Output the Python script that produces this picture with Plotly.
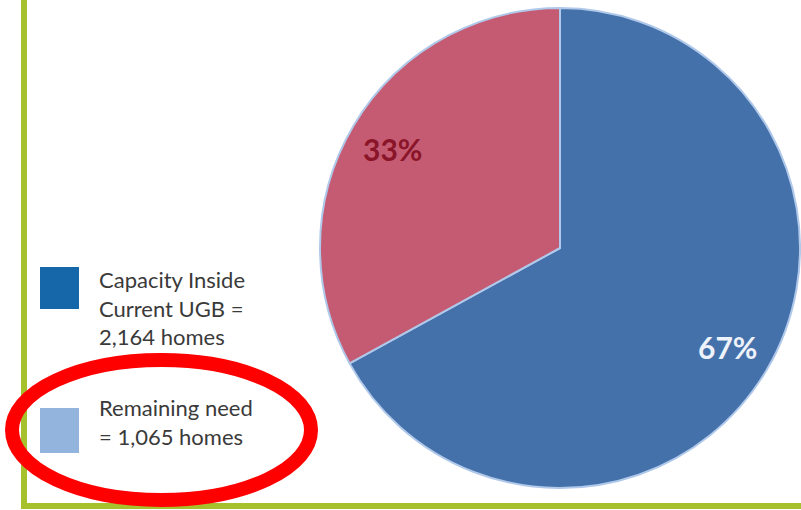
import math
import plotly.graph_objects as go

# Housing capacity vs. remaining need
categories = ["Capacity Inside Current UGB", "Remaining need"]
homes = [2164, 1065]
slice_colors = ["#4571aa", "#c45b72"]
label_colors = ["#eef2fa", "#8a1428"]

legend_labels = ["Capacity Inside<br>Current UGB =<br>2,164 homes",
                 "Remaining need<br>= 1,065 homes"]
legend_swatches = ["#1667a9", "#93b4dc"]

W, H = 801, 510
# pie geometry in pixels
cx, cy, R = 560, 248, 240


def px(x):
    return x / W


def py(y):
    return (H - y) / H


fig = go.Figure()
fig.add_trace(go.Pie(
    labels=categories,
    values=homes,
    sort=False,
    direction="clockwise",
    rotation=0,
    marker=dict(colors=slice_colors, line=dict(color="#b0c9ea", width=2)),
    textinfo="none",
    hoverinfo="label+value+percent",
    showlegend=False,
    domain=dict(x=[px(cx - R), px(cx + R)], y=[py(cy + R), py(cy - R)]),
))

# percentage labels placed at each slice's mid-angle (slices run
# clockwise from 12 o'clock)
total = sum(homes)
start = 0.0
annotations = []
for v, col in zip(homes, label_colors):
    span = 360.0 * v / total
    mid = math.radians(start + span / 2)
    start += span
    lx = cx + 0.81 * R * math.sin(mid)
    ly = cy - 0.81 * R * math.cos(mid)
    annotations.append(dict(
        x=px(lx), y=py(ly), xref="paper", yref="paper",
        text=f"<b>{round(100 * v / total)}%</b>", showarrow=False,
        font=dict(family="Lato", size=30, color=col),
        xanchor="center", yanchor="middle"))

# custom legend: swatches + text
shapes = []
legend_rows = [(267, 309, 308), (408, 453, 422)]
for (y0, y1, ty), lab, sw in zip(legend_rows, legend_labels, legend_swatches):
    shapes.append(dict(type="rect", xref="paper", yref="paper",
                       x0=px(40), x1=px(79), y0=py(y1), y1=py(y0),
                       fillcolor=sw, line=dict(width=0)))
    annotations.append(dict(
        x=px(97), y=py(ty), xref="paper", yref="paper", text=lab,
        showarrow=False, align="left", xanchor="left", yanchor="middle",
        font=dict(family="Lato", size=22, color="#3a3a3a")))

# green frame on the left and bottom
shapes.append(dict(type="rect", xref="paper", yref="paper",
                   x0=px(21), x1=px(27), y0=py(509), y1=py(0),
                   fillcolor="#a6c12c", line=dict(width=0)))
shapes.append(dict(type="rect", xref="paper", yref="paper",
                   x0=px(21), x1=px(801), y0=py(509), y1=py(503),
                   fillcolor="#a6c12c", line=dict(width=0)))

# red highlight ellipse around the remaining-need entry
shapes.append(dict(type="circle", xref="paper", yref="paper",
                   x0=px(12), x1=px(311), y0=py(500), y1=py(360),
                   line=dict(color="#ff0000", width=14), layer="above"))

fig.update_layout(
    width=W, height=H,
    margin=dict(l=0, r=0, t=0, b=0),
    paper_bgcolor="white", plot_bgcolor="white",
    shapes=shapes, annotations=annotations,
)

fig.write_html("out.html")
